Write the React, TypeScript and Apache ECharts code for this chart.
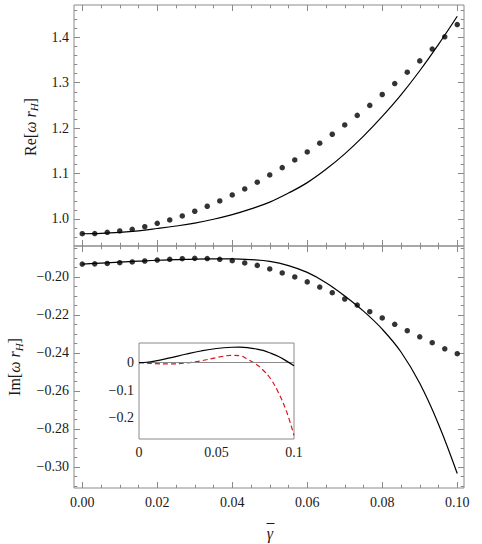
import React, { useEffect, useRef } from "react";
import * as echarts from "echarts";

// ---------- data ----------
const dotX = [0, 0.00333, 0.00667, 0.01, 0.01333, 0.01667, 0.02, 0.02333, 0.02667, 0.03, 0.03333,
  0.03667, 0.04, 0.04333, 0.04667, 0.05, 0.05333, 0.05667, 0.06, 0.06333, 0.06667, 0.07,
  0.07333, 0.07667, 0.08, 0.08333, 0.08667, 0.09, 0.09333, 0.09667, 0.1];

const reDots = [0.9675, 0.968, 0.9707, 0.9736, 0.9773, 0.983, 0.9905, 0.9978, 1.0066, 1.017, 1.028,
  1.0396, 1.0529, 1.066, 1.081, 1.097, 1.113, 1.13, 1.1476, 1.1667, 1.1865, 1.207,
  1.228, 1.25, 1.274, 1.298, 1.323, 1.348, 1.374, 1.401, 1.428];

const imDots = [-0.1932, -0.1931, -0.1929, -0.1925, -0.1921, -0.1916, -0.1911, -0.1907, -0.1904, -0.1902, -0.1903,
  -0.1907, -0.1914, -0.1926, -0.1939, -0.1958, -0.1979, -0.2, -0.2026, -0.2053, -0.2083, -0.2116,
  -0.2148, -0.2183, -0.2216, -0.2249, -0.2283, -0.2315, -0.2346, -0.2378, -0.2404];

const curveX = [0, 0.005, 0.01, 0.015, 0.02, 0.025, 0.03, 0.035, 0.04, 0.045, 0.05,
  0.055, 0.06, 0.065, 0.07, 0.075, 0.08, 0.085, 0.09, 0.095, 0.1];

const reCurve = [0.9675, 0.9683, 0.9705, 0.974, 0.979, 0.9845, 0.991, 0.9993, 1.0095, 1.0222, 1.037,
  1.057, 1.08, 1.1093, 1.1433, 1.1823, 1.2258, 1.2733, 1.3263, 1.3843, 1.4463];

const imCurve = [-0.1932, -0.1927, -0.1922, -0.1917, -0.1912, -0.1909, -0.1906, -0.1905, -0.1905, -0.1909, -0.1918,
  -0.194, -0.1976, -0.203, -0.21, -0.218, -0.2275, -0.2395, -0.256, -0.2775, -0.3035];

const insetX = [0, 0.005, 0.01, 0.02, 0.03, 0.04, 0.05, 0.06, 0.065, 0.07, 0.075, 0.08, 0.085, 0.09, 0.095, 0.1];
const insetBlack = [0, 0.001, 0.005, 0.017, 0.03, 0.042, 0.051, 0.0555, 0.056, 0.0545, 0.05, 0.044, 0.034, 0.022, 0.006, -0.012];
const insetRed = [0, -0.002, -0.004, -0.005, -0.002, 0.006, 0.018, 0.026, 0.025, 0.012, -0.004, -0.027, -0.06, -0.11, -0.175, -0.265];

const xMajorTicks = [0, 0.02, 0.04, 0.06, 0.08, 0.1];
const reMajorTicks = [1.0, 1.1, 1.2, 1.3, 1.4];
const imMajorTicks = [-0.3, -0.28, -0.26, -0.24, -0.22, -0.2];
const insetXTicks = [0, 0.05, 0.1];
const insetYTicks = [0, -0.1, -0.2];

// ---------- helpers ----------
const FONT = "Liberation Serif";
const FRAME = "#8a8a8a";
const TEXT = "#1a1a1a";

function minorRange(min: number, max: number, step: number): number[] {
  const out: number[] = [];
  const start = Math.ceil(min / step - 1e-9);
  const end = Math.floor(max / step + 1e-9);
  for (let k = start; k <= end; k++) out.push(+(k * step).toFixed(6));
  return out;
}

const zip = (xs: number[], ys: number[]) => xs.map((x, i) => [x, ys[i]]);

const minus = (s: string) => s.replace("-", "\u2212");

const tickRich = { t: { fontFamily: FONT, fontSize: 14, color: TEXT } };

export default function App() {
  const ref = useRef<HTMLDivElement>(null);

  useEffect(() => {
    if (!ref.current) return;
    const chart = echarts.init(ref.current, null, { renderer: "svg" });

    const xMin = -0.0022, xMax = 0.1018;
    const reMin = 0.9405, reMax = 1.471;
    const imMin = -0.3111, imMax = -0.1837;

    const xMinor = minorRange(xMin, xMax, 0.005);
    const reMinor = minorRange(reMin, reMax, 0.02);
    const imMinor = minorRange(imMin, imMax, 0.005);

    const xAxes: any[] = [];
    const yAxes: any[] = [];

    const mkLabel = (vals: number[], fmt: (v: number) => string, margin: number) => ({
      show: true, customValues: vals, margin,
      fontFamily: FONT, fontSize: 14, color: TEXT,
      formatter: (v: number) => "{t|" + fmt(v) + "}",
      rich: tickRich,
    });

    const mkX = (grid: number, pos: string, major: boolean, min: number, max: number, vals: number[], fmt?: (v: number) => string, len = 6) => {
      xAxes.push({
        type: "value", gridIndex: grid, position: pos, min, max,
        axisLine: { show: false, onZero: false },
        splitLine: { show: false },
        axisTick: { show: true, inside: true, length: major ? len : len * 0.55, customValues: vals, lineStyle: { color: FRAME, width: 1 } },
        axisLabel: fmt ? mkLabel(vals, fmt, 7) : { show: false },
      });
      return xAxes.length - 1;
    };
    const mkY = (grid: number, pos: string, major: boolean, min: number, max: number, vals: number[], fmt?: (v: number) => string, len = 6) => {
      yAxes.push({
        type: "value", gridIndex: grid, position: pos, min, max,
        axisLine: { show: false, onZero: false },
        splitLine: { show: false },
        axisTick: { show: true, inside: true, length: major ? len : len * 0.55, customValues: vals, lineStyle: { color: FRAME, width: 1 } },
        axisLabel: fmt ? mkLabel(vals, fmt, 5) : { show: false },
      });
      return yAxes.length - 1;
    };

    // top panel (grid 0)
    const xTop0 = mkX(0, "bottom", true, xMin, xMax, xMajorTicks);
    mkX(0, "bottom", false, xMin, xMax, xMinor);
    mkX(0, "top", true, xMin, xMax, xMajorTicks);
    mkX(0, "top", false, xMin, xMax, xMinor);
    const yTop0 = mkY(0, "left", true, reMin, reMax, reMajorTicks, (v) => v.toFixed(1));
    mkY(0, "left", false, reMin, reMax, reMinor);
    mkY(0, "right", true, reMin, reMax, reMajorTicks);
    mkY(0, "right", false, reMin, reMax, reMinor);

    // bottom panel (grid 1)
    const xBot0 = mkX(1, "bottom", true, xMin, xMax, xMajorTicks, (v) => v.toFixed(2));
    mkX(1, "bottom", false, xMin, xMax, xMinor);
    mkX(1, "top", true, xMin, xMax, xMajorTicks);
    mkX(1, "top", false, xMin, xMax, xMinor);
    const yBot0 = mkY(1, "left", true, imMin, imMax, imMajorTicks, (v) => minus(v.toFixed(2)));
    mkY(1, "left", false, imMin, imMax, imMinor);
    mkY(1, "right", true, imMin, imMax, imMajorTicks);
    mkY(1, "right", false, imMin, imMax, imMinor);

    // inset (grid 2)
    xAxes.push({
      type: "value", gridIndex: 2, position: "bottom", min: 0, max: 0.1,
      axisLine: { show: false, onZero: false }, splitLine: { show: false },
      axisTick: { show: false },
      axisLabel: mkLabel(insetXTicks, (v: number) => (v === 0 ? "0" : String(+v.toFixed(2))), 6),
    });
    const xIn = xAxes.length - 1;
    yAxes.push({
      type: "value", gridIndex: 2, position: "left", min: -0.278, max: 0.071,
      axisLine: { show: false, onZero: false }, splitLine: { show: false },
      axisTick: { show: false },
      axisLabel: mkLabel(insetYTicks, (v: number) => (v === 0 ? "0" : minus(String(+v.toFixed(1)))), 5),
    });
    const yIn = yAxes.length - 1;

    const nameRich = {
      n: { fontFamily: FONT, fontSize: 16, fill: TEXT },
      i: { fontFamily: FONT, fontSize: 16, fontStyle: "italic", fill: TEXT },
      s: { fontFamily: FONT, fontSize: 11, fontStyle: "italic", fill: TEXT, padding: [8, 0, 0, 0] },
    };

    const option: any = {
      animation: false,
      backgroundColor: "#ffffff",
      textStyle: { fontFamily: FONT, fontSize: 14, color: TEXT },
      grid: [
        { left: 74, top: 5, width: 390, height: 241, show: true, borderColor: FRAME, borderWidth: 1, backgroundColor: "transparent" },
        { left: 74, top: 246, width: 390, height: 242, show: true, borderColor: FRAME, borderWidth: 1, backgroundColor: "transparent" },
        { left: 139, top: 343, width: 155, height: 96, show: true, borderColor: FRAME, borderWidth: 1, backgroundColor: "#ffffff" },
      ],
      xAxis: xAxes,
      yAxis: yAxes,
      series: [
        {
          type: "line", xAxisIndex: xTop0, yAxisIndex: yTop0, data: zip(curveX, reCurve),
          smooth: 0.4, showSymbol: false, lineStyle: { color: "#000", width: 1.2 }, z: 2,
        },
        {
          type: "scatter", xAxisIndex: xTop0, yAxisIndex: yTop0, data: zip(dotX, reDots),
          symbol: "circle", symbolSize: 5.5, itemStyle: { color: "#000" }, z: 3,
        },
        {
          type: "line", xAxisIndex: xBot0, yAxisIndex: yBot0, data: zip(curveX, imCurve),
          smooth: 0.4, showSymbol: false, lineStyle: { color: "#000", width: 1.2 }, z: 2,
        },
        {
          type: "scatter", xAxisIndex: xBot0, yAxisIndex: yBot0, data: zip(dotX, imDots),
          symbol: "circle", symbolSize: 5.5, itemStyle: { color: "#000" }, z: 3,
        },
        {
          type: "line", xAxisIndex: xIn, yAxisIndex: yIn, data: zip(insetX, insetRed),
          smooth: 0.4, showSymbol: false, lineStyle: { color: "#d9141e", width: 1.2, type: [5, 3] }, z: 4,
          markLine: {
            silent: true, symbol: "none", label: { show: false },
            lineStyle: { color: FRAME, width: 1, type: "solid" },
            data: [{ yAxis: 0 }],
          },
        },
        {
          type: "line", xAxisIndex: xIn, yAxisIndex: yIn, data: zip(insetX, insetBlack),
          smooth: 0.4, showSymbol: false, lineStyle: { color: "#000", width: 1.2 }, z: 5,
        },
      ],
      graphic: [
        {
          type: "text", x: 30, y: 127, rotation: Math.PI / 2,
          style: { text: "{n|Re[}{i|\u03c9 r}{s|H}{n|]}", align: "center", verticalAlign: "middle", rich: nameRich },
        },
        {
          type: "text", x: 14.5, y: 367, rotation: Math.PI / 2,
          style: { text: "{n|Im[}{i|\u03c9 r}{s|H}{n|]}", align: "center", verticalAlign: "middle", rich: nameRich },
        },
        {
          type: "text", x: 270, y: 533,
          style: { text: "\u03b3", fontFamily: FONT, fontSize: 16, fontStyle: "italic", fill: TEXT, align: "center", verticalAlign: "middle" },
        },
        {
          type: "line", shape: { x1: 266.5, y1: 523.5, x2: 274.5, y2: 523.5 },
          style: { stroke: TEXT, lineWidth: 1 },
        },
      ],
    };

    chart.setOption(option);
    return () => chart.dispose();
  }, []);

  return <div ref={ref} style={{ position: "fixed", left: 0, top: 0, width: 482, height: 544 }} />;
}
